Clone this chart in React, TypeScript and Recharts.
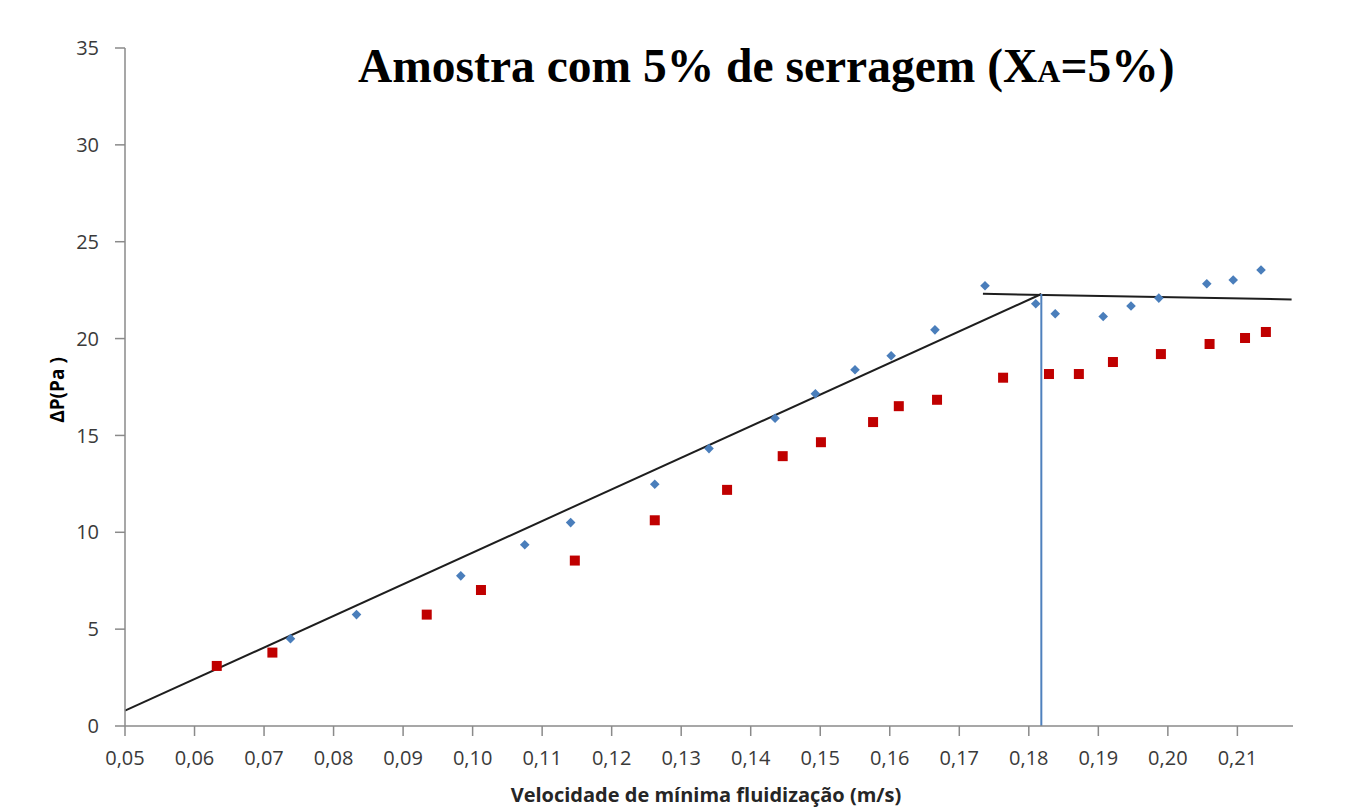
import { ScatterChart, Scatter, XAxis, YAxis, ReferenceLine } from 'recharts';

// Eixos
const xTicks = [0.05, 0.06, 0.07, 0.08, 0.09, 0.1, 0.11, 0.12, 0.13, 0.14, 0.15, 0.16, 0.17, 0.18, 0.19, 0.2, 0.21];
const yTicks = [0, 5, 10, 15, 20, 25, 30, 35];

// Série 1 (losangos azuis)
const velAzul = [0.0738, 0.0833, 0.0983, 0.1075, 0.1141, 0.1262, 0.134, 0.1435, 0.1493, 0.155, 0.1602, 0.1665, 0.1737, 0.181, 0.1838, 0.1907, 0.1947, 0.1987, 0.2056, 0.2094, 0.2134];
const dpAzul = [4.51, 5.75, 7.75, 9.36, 10.5, 12.48, 14.32, 15.89, 17.15, 18.39, 19.11, 20.45, 22.73, 21.8, 21.28, 21.14, 21.68, 22.09, 22.83, 23.02, 23.54];

// Série 2 (quadrados vermelhos)
const velVermelho = [0.0632, 0.0712, 0.0934, 0.1012, 0.1147, 0.1262, 0.1366, 0.1446, 0.1501, 0.1576, 0.1613, 0.1668, 0.1763, 0.1829, 0.1872, 0.1921, 0.199, 0.206, 0.2111, 0.2141];
const dpVermelho = [3.1, 3.79, 5.75, 7.02, 8.54, 10.62, 12.19, 13.93, 14.65, 15.69, 16.51, 16.84, 17.98, 18.17, 18.17, 18.79, 19.2, 19.72, 20.03, 20.34];

// Retas: leito fixo, leito fluidizado e velocidade de mínima fluidização
const retaLeitoFixo = [{ x: 0.05, y: 0.79 }, { x: 0.1818, y: 22.3 }];
const retaPatamar = [{ x: 0.1734, y: 22.31 }, { x: 0.2178, y: 22.02 }];
const retaUmf = [{ x: 0.1818, y: 0 }, { x: 0.1818, y: 22.3 }];

const azul = velAzul.map((x, i) => ({ x, y: dpAzul[i] }));
const vermelho = velVermelho.map((x, i) => ({ x, y: dpVermelho[i] }));

const Losango = (props: any) => {
  const { cx, cy } = props;
  const r = 4.8;
  return <path d={`M${cx} ${cy - r}L${cx + r} ${cy}L${cx} ${cy + r}L${cx - r} ${cy}Z`} fill="#4a7ebb" />;
};

const Quadrado = (props: any) => {
  const { cx, cy } = props;
  return <rect x={cx - 5} y={cy - 5} width={10} height={10} fill="#c00000" />;
};

const fmt = (v: number) => v.toFixed(2).replace('.', ',');
const tickStyle = { fill: '#3a3a3a', fontSize: 20, fontFamily: '"Open Sans", sans-serif' };
const corEixo = '#8a8a8a';

export default function App() {
  return (
    <div style={{ position: 'relative', width: 1340, height: 802 }}>
      <ScatterChart width={1340} height={794} margin={{ top: 40, right: 55, bottom: 16, left: 57 }}>
        <XAxis
          dataKey="x"
          type="number"
          domain={[0.05, 0.218]}
          ticks={xTicks}
          interval={0}
          allowDataOverflow
          tickFormatter={fmt}
          tickSize={10}
          tickMargin={15}
          axisLine={{ stroke: corEixo, strokeWidth: 1.5 }}
          tickLine={{ stroke: corEixo, strokeWidth: 1.5 }}
          tick={tickStyle}
          height={60}
        />
        <YAxis
          dataKey="y"
          type="number"
          domain={[0, 35]}
          ticks={yTicks}
          interval={0}
          allowDataOverflow
          tickSize={10}
          tickMargin={16}
          axisLine={{ stroke: corEixo, strokeWidth: 1.5 }}
          tickLine={{ stroke: corEixo, strokeWidth: 1.5 }}
          tick={tickStyle}
          width={60}
        />
        <Scatter data={azul} shape={Losango} isAnimationActive={false} />
        <Scatter data={vermelho} shape={Quadrado} isAnimationActive={false} />
        <ReferenceLine segment={retaLeitoFixo} stroke="#1e1e1e" strokeWidth={2} />
        <ReferenceLine segment={retaPatamar} stroke="#1e1e1e" strokeWidth={2} />
        <ReferenceLine segment={retaUmf} stroke="#4f81bd" strokeWidth={2} />
      </ScatterChart>
      <svg
        width={1340}
        height={802}
        style={{ position: 'absolute', left: 0, top: 0, pointerEvents: 'none', overflow: 'visible' }}
      >
        <text x={350} y={74} fontFamily='"Liberation Serif", "Times New Roman", serif' fontWeight="bold" fontSize={47.5} fill="#000">
          Amostra com 5% de serragem (X<tspan fontSize={32}>A</tspan>=5%)
        </text>
        <text x={698} y={794} textAnchor="middle" fontFamily='"Open Sans", sans-serif' fontWeight="bold" fontSize={20} fill="#262626">
          Velocidade de mínima fluidização (m/s)
        </text>
        <text
          x={49}
          y={382}
          transform="rotate(-90 49 382)"
          textAnchor="middle"
          dominantBaseline="central"
          fontFamily='"Open Sans", sans-serif'
          fontWeight="bold"
          fontSize={19}
          fill="#000"
        >
          ΔP(Pa )
        </text>
      </svg>
    </div>
  );
}
